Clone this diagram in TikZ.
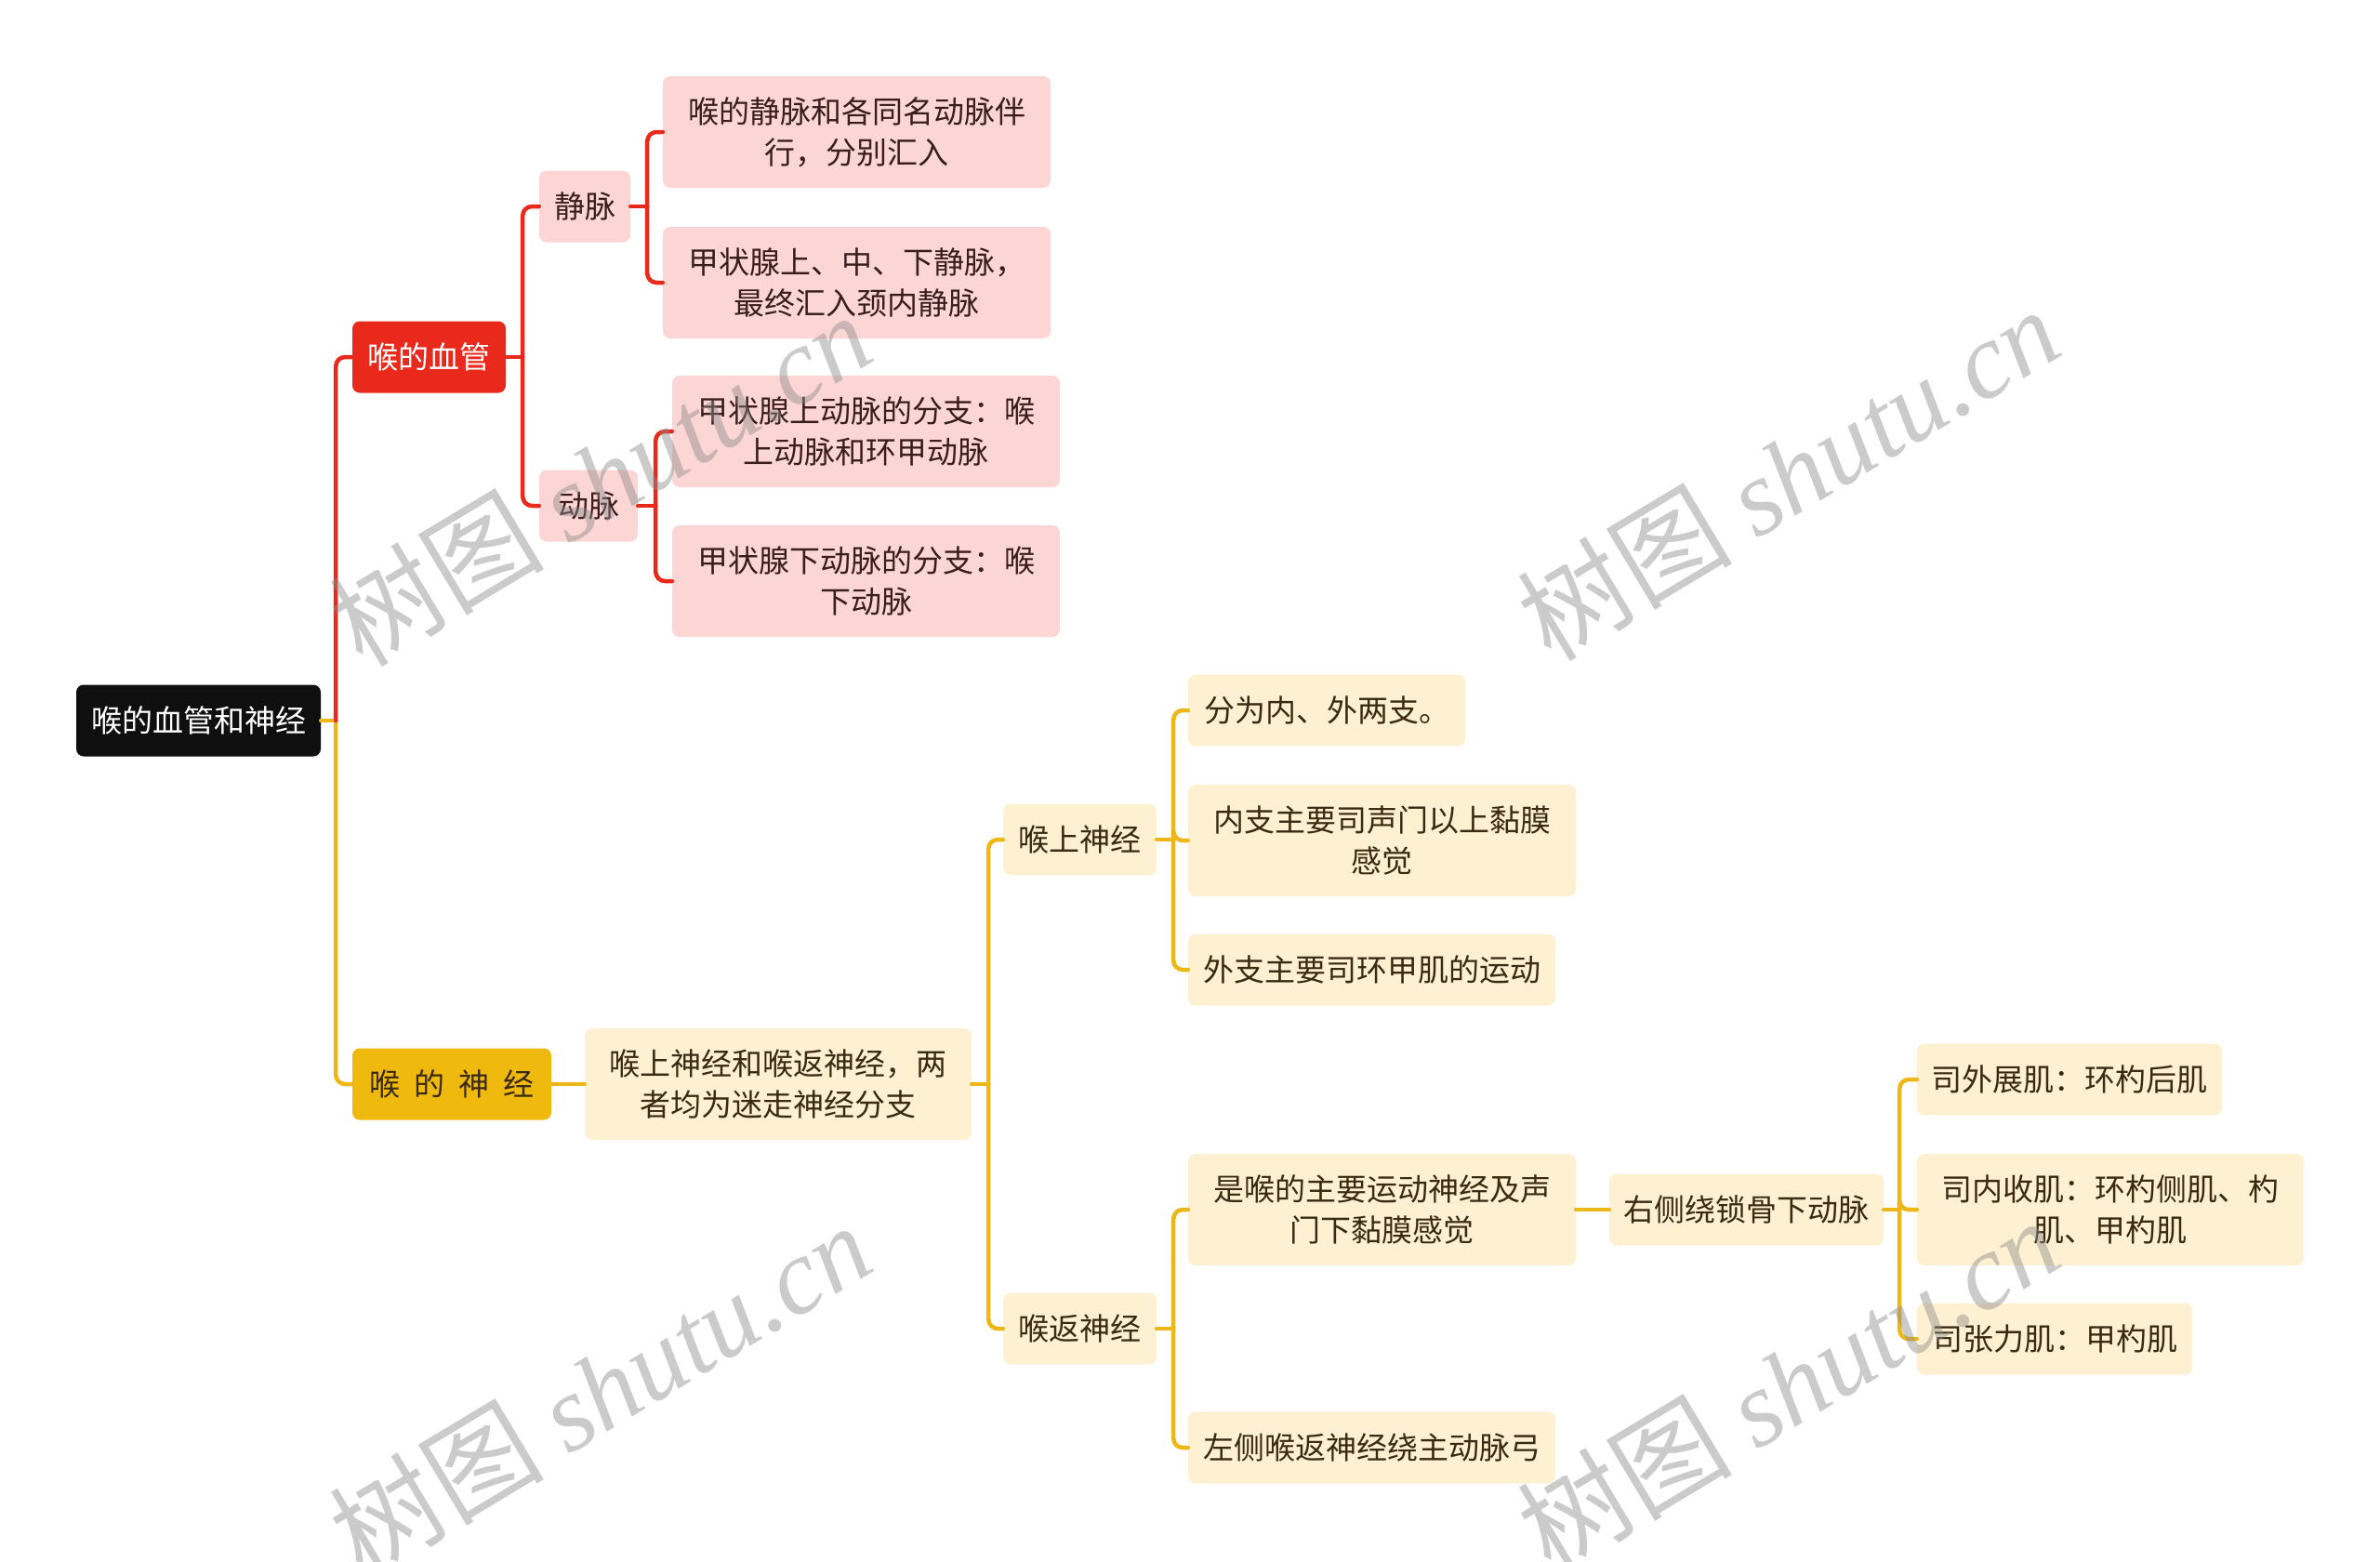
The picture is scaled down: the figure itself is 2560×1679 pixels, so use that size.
\documentclass[tikz,border=0pt]{standalone}
\usepackage{fontspec}
\setmainfont{Noto Sans CJK SC}
\newfontfamily\wmlatin{Liberation Serif}
\usetikzlibrary{calc}
\definecolor{cred}{HTML}{E8291C}
\definecolor{cyel}{HTML}{EEB718}
\definecolor{cpink}{HTML}{FCD6D4}
\definecolor{ccream}{HTML}{FDF1D2}
\definecolor{ctxt}{HTML}{3A2A12}
\definecolor{cptxt}{HTML}{3A1E1E}
\definecolor{cblack}{HTML}{0F0F0F}
\definecolor{cyfill}{HTML}{F0B90E}
\begin{document}
\begin{tikzpicture}[x=1pt,y=-1pt,
 base/.style={rounded corners=8pt, inner sep=0pt, align=center, font=\fontsize{33}{44}\selectfont},
 pinkbox/.style={base, fill=cpink, text=cptxt},
 creambox/.style={base, fill=ccream, text=ctxt},
 one/.style={minimum height=77pt},
 two/.style={minimum height=120pt},
 redline/.style={draw=cred, line width=4.5pt, rounded corners=10pt, line cap=round},
 yelline/.style={draw=cyel, line width=4.5pt, rounded corners=10pt, line cap=round},
 wm/.style={rotate=31, text=black!45, opacity=0.45, font=\fontsize{116}{126}\selectfont},
]
\useasboundingbox[fill=white] (0,0) rectangle (2560,1679);

% nodes
\node[base, one, fill=cblack, text=white, minimum width=263pt] (root) at (213.5,775) {喉的血管和神经};
\node[base, one, fill=cred, text=white, minimum width=165pt] (xg) at (461.5,384) {喉的血管};
\node[base, one, fill=cyfill, text=ctxt, minimum width=214pt] (sj) at (486,1166) {喉\hspace{15pt}的\hspace{15pt}神\hspace{15pt}经};

\node[pinkbox, one, minimum width=98pt] (jm) at (629,222) {静脉};
\node[pinkbox, one, minimum width=106pt] (dm) at (633,544) {动脉};
\node[pinkbox, two, minimum width=417pt] (v1) at (921.5,142) {喉的静脉和各同名动脉伴\\行，分别汇入};
\node[pinkbox, two, minimum width=417pt] (v2) at (921.5,304) {甲状腺上、中、下静脉，\\最终汇入颈内静脉};
\node[pinkbox, two, minimum width=417pt] (a1) at (931.5,464) {甲状腺上动脉的分支：喉\\上动脉和环甲动脉};
\node[pinkbox, two, minimum width=417pt] (a2) at (931.5,625) {甲状腺下动脉的分支：喉\\下动脉};

\node[creambox, two, minimum width=416pt] (n0) at (837,1166) {喉上神经和喉返神经，两\\者均为迷走神经分支};
\node[creambox, one, minimum width=165pt] (sn) at (1161.5,903) {喉上神经};
\node[creambox, one, minimum width=165pt] (fn) at (1161.5,1429) {喉返神经};
\node[creambox, one, minimum width=298pt] (s1) at (1427,764) {分为内、外两支。};
\node[creambox, two, minimum width=417pt] (s2) at (1486.5,904) {内支主要司声门以上黏膜\\感觉};
\node[creambox, one, minimum width=395pt] (s3) at (1475.5,1043) {外支主要司环甲肌的运动};
\node[creambox, two, minimum width=417pt] (f1) at (1486.5,1301) {是喉的主要运动神经及声\\门下黏膜感觉};
\node[creambox, one, minimum width=395pt] (f2) at (1475.5,1557) {左侧喉返神经绕主动脉弓};
\node[creambox, one, minimum width=295pt] (rr) at (1878.5,1301) {右侧绕锁骨下动脉};
\node[creambox, one, minimum width=328pt] (m1) at (2226,1161) {司外展肌：环杓后肌};
\node[creambox, two, minimum width=416pt] (m2) at (2270,1301) {司内收肌：环杓侧肌、杓\\肌、甲杓肌};
\node[creambox, one, minimum width=296pt] (m3) at (2210,1440) {司张力肌：甲杓肌};

% connectors
\draw[yelline] (root.east) -- ++(16,0);
\draw[yelline] ([xshift=16pt]root.east) |- (sj.west);
\draw[redline] ([xshift=16pt]root.east) |- (xg.west);

\draw[redline] (xg.east) -- ++(18,0);
\draw[redline] ([xshift=18pt]xg.east) |- (jm.west);
\draw[redline] ([xshift=18pt]xg.east) |- (dm.west);

\draw[redline] (jm.east) -- ++(18,0);
\draw[redline] ([xshift=18pt]jm.east) |- (v1.west);
\draw[redline] ([xshift=18pt]jm.east) |- (v2.west);

\draw[redline] (dm.east) -- ++(19,0);
\draw[redline] ([xshift=19pt]dm.east) |- (a1.west);
\draw[redline] ([xshift=19pt]dm.east) |- (a2.west);

\draw[yelline] (sj.east) -- (n0.west);

\draw[yelline] (n0.east) -- ++(18,0);
\draw[yelline] ([xshift=18pt]n0.east) |- (sn.west);
\draw[yelline] ([xshift=18pt]n0.east) |- (fn.west);

\draw[yelline] (sn.east) -- ++(18,0);
\draw[yelline] ([xshift=18pt]sn.east) |- (s1.west);
\draw[yelline] ([xshift=18pt]sn.east) |- (s2.west);
\draw[yelline] ([xshift=18pt]sn.east) |- (s3.west);

\draw[yelline] (fn.east) -- ++(18,0);
\draw[yelline] ([xshift=18pt]fn.east) |- (f1.west);
\draw[yelline] ([xshift=18pt]fn.east) |- (f2.west);

\draw[yelline] (f1.east) -- (rr.west);

\draw[yelline] (rr.east) -- ++(17,0);
\draw[yelline] ([xshift=17pt]rr.east) |- (m1.west);
\draw[yelline] ([xshift=17pt]rr.east) |- (m2.west);
\draw[yelline] ([xshift=17pt]rr.east) |- (m3.west);

% watermarks
\node[wm] (w1) at (645,515) {树图 {\wmlatin\itshape shutu.cn}};
\node[wm] (w2) at (1923,509) {树图 {\wmlatin\itshape shutu.cn}};
\node[wm] (w3) at (645,1494) {树图 {\wmlatin\itshape shutu.cn}};
\node[wm] (w4) at (1923,1489) {树图 {\wmlatin\itshape shutu.cn}};
\end{tikzpicture}
\end{document}
